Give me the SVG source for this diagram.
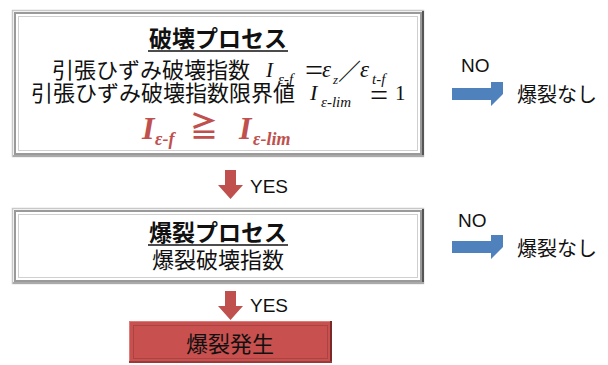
<svg xmlns="http://www.w3.org/2000/svg" width="608" height="365" viewBox="0 0 608 365">
<style>
.jp{font-family:"Noto Sans CJK JP","Noto Sans",sans-serif;fill:#111}
.ttl{font-weight:bold;font-size:23px}
.body{font-size:22px}
.lat{font-family:"Liberation Sans",Arial,sans-serif;font-size:19px;fill:#111}
.m{font-family:"Liberation Serif","Times New Roman",serif;font-style:italic;fill:#111}
.up{font-family:"Liberation Serif","Times New Roman",serif;font-style:normal;fill:#111}
.red{fill:#c0504d;font-weight:bold}
.frame-o{fill:#fff;stroke:#c8c8c8;stroke-width:1.5}
.frame-m{fill:none;stroke:#9a9a9a;stroke-width:2}
.frame-i{fill:none;stroke:#d0d0d0;stroke-width:1}
.ul{stroke:#111;stroke-width:1.5}
.down{fill:#c0504d}
.right{fill:#4f81bd}
</style>
<defs>
<path id="dn" d="M-5.5,0 H5.5 V15 H12.5 L0,29 L-12.5,15 H-5.5 Z"/>
<path id="rt" d="M0,-6 H39 V-12 H51 L51,0 L39,12 V6 H0 Z"/>
</defs>

<g id="node-break">
<rect class="frame-o" x="12.5" y="10.5" width="411" height="146"/>
<rect class="frame-m" x="15" y="13" width="406" height="141"/>
<rect class="frame-i" x="18.5" y="16.5" width="399" height="134"/>
<line x1="423" y1="11" x2="423" y2="157" stroke="#555" stroke-width="2"/>
<line x1="13" y1="156" x2="424" y2="156" stroke="#aaa" stroke-width="2"/>
<text class="jp ttl" x="218" y="47" text-anchor="middle">破壊プロセス</text>
<line class="ul" x1="148" y1="51" x2="288" y2="51"/>
<text class="jp body" x="52" y="78">引張ひずみ破壊指数</text>
<text class="m" x="266" y="77" font-size="21">I</text>
<text class="m" x="278" y="84" font-size="15">ε-f</text>
<text class="up" x="305" y="81" font-size="32">=</text>
<text class="m" x="322" y="77" font-size="23">ε</text>
<text class="m" x="333" y="84" font-size="13">z</text>
<text class="jp" x="338" y="80" font-size="23">／</text>
<text class="m" x="360" y="77" font-size="23">ε</text>
<text class="m" x="372" y="84" font-size="15">t-f</text>
<text class="jp body" x="31" y="101">引張ひずみ破壊指数限界値</text>
<text class="m" x="310" y="100" font-size="22">I</text>
<text class="m" x="321" y="107" font-size="15">ε-lim</text>
<text class="up" x="370" y="106" font-size="32">=</text>
<text class="up" x="395" y="100" font-size="21">1</text>
<text class="m red" x="142" y="139" font-size="32">I</text>
<text class="m red" x="155" y="145" font-size="18">ε-f</text>
<text class="jp red" x="190" y="137" font-size="28" font-weight="normal">≧</text>
<text class="m red" x="239" y="139" font-size="32">I</text>
<text class="m red" x="253" y="145" font-size="18">ε-lim</text>
</g>

<g id="node-no1">
<text class="lat" x="461" y="72">NO</text>
<text class="jp" x="517" y="102" font-size="20">爆裂なし</text>
</g>

<g id="node-burst">
<rect class="frame-o" x="12.5" y="208.5" width="411" height="75"/>
<rect class="frame-m" x="15" y="211" width="406" height="70"/>
<rect class="frame-i" x="18.5" y="214.5" width="399" height="63"/>
<line x1="423" y1="209" x2="423" y2="284" stroke="#555" stroke-width="2"/>
<line x1="13" y1="283" x2="424" y2="283" stroke="#aaa" stroke-width="2"/>
<text class="jp ttl" x="218" y="241" text-anchor="middle">爆裂プロセス</text>
<line class="ul" x1="148" y1="245" x2="288" y2="245"/>
<text class="jp body" x="218" y="268" text-anchor="middle">爆裂破壊指数</text>
</g>

<g id="node-no2">
<text class="lat" x="458" y="227">NO</text>
<text class="jp" x="517" y="256" font-size="20">爆裂なし</text>
</g>

<g id="node-result">
<rect x="129" y="321" width="203" height="42" fill="#c8504e"/>
<rect x="129.5" y="321.5" width="202" height="41" fill="none" stroke="#e07a78" stroke-width="1"/>
<line x1="331" y1="321" x2="331" y2="363" stroke="#7a2a28" stroke-width="2"/>
<line x1="129" y1="362" x2="332" y2="362" stroke="#9a3a38" stroke-width="2"/>
<rect x="133.5" y="325.5" width="194" height="33" fill="none" stroke="#a94442" stroke-width="1"/>
<text class="jp" x="230" y="352" font-size="22" text-anchor="middle">爆裂発生</text>
</g>

<g id="connectors">
<use href="#dn" class="down" x="230.5" y="170"/>
<text class="lat" x="250" y="193">YES</text>
<use href="#rt" class="right" x="452" y="94"/>
<use href="#dn" class="down" x="230.5" y="291"/>
<text class="lat" x="250" y="312">YES</text>
<use href="#rt" class="right" x="452" y="247"/>
</g>
</svg>
